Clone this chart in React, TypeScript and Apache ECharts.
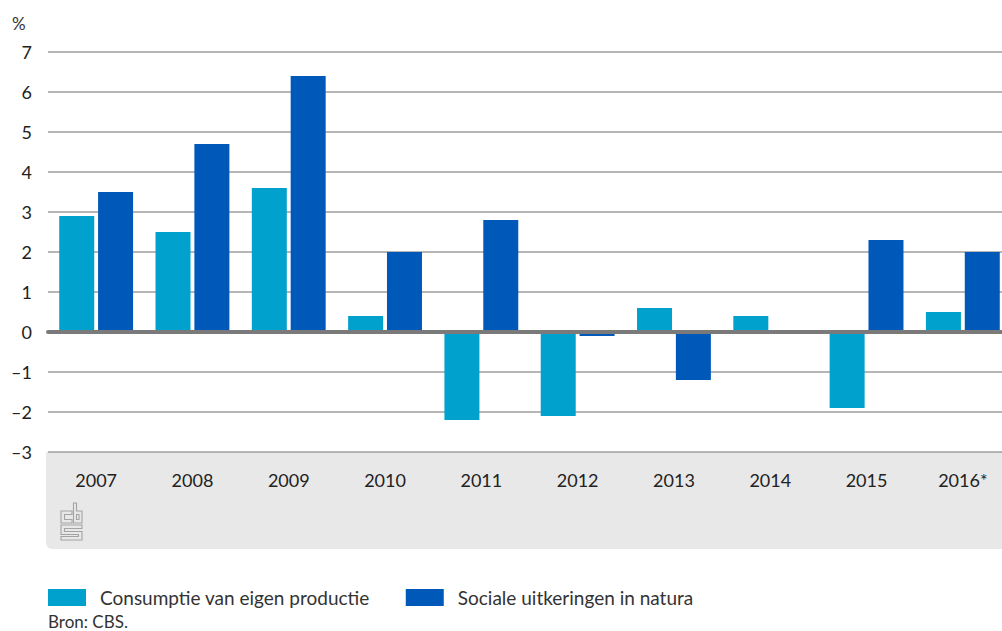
import React, { useEffect, useRef } from "react";
import * as echarts from "echarts";

const categories = ["2007", "2008", "2009", "2010", "2011", "2012", "2013", "2014", "2015", "2016*"];
const consumptieEigenProductie = [2.9, 2.5, 3.6, 0.4, -2.2, -2.1, 0.6, 0.4, -1.9, 0.5];
const socialeUitkeringenNatura = [3.5, 4.7, 6.4, 2.0, 2.8, -0.1, -1.2, 0, 2.3, 2.0];
const seriesNames = ["Consumptie van eigen productie", "Sociale uitkeringen in natura"];

const LOGO_D =
  "M11,8 L0,8 L0,20 L11,20 L11,16.5 L3.5,16.5 L3.5,11.5 L11,11.5 Z " +
  "M12.5,0 L15.5,0 L15.5,8 L21,8 L21,20 L12.5,20 Z M15.5,11.5 L18,11.5 L18,16.5 L15.5,16.5 Z " +
  "M0,22 L21,22 L21,25.5 L3.5,25.5 L3.5,28.5 L21,28.5 L21,37 L0,37 L0,33.5 L17.5,33.5 L17.5,31.5 L0,31.5 Z";

let registered = false;

export default function App() {
  const ref = useRef<HTMLDivElement>(null);
  useEffect(() => {
    if (!ref.current) return;
    if (!registered) {
      echarts.graphic.registerShape("logo", echarts.graphic.extendPath(LOGO_D, {}));
      registered = true;
    }
    const chart = echarts.init(ref.current, null, { renderer: "svg" });
    const font = "Lato, 'Open Sans', sans-serif";
    chart.setOption({
      animation: false,
      textStyle: { fontFamily: font },
      grid: { left: 48, top: 52, width: 963, height: 400, containLabel: false },
      legend: {
        left: 48,
        top: 588,
        padding: 0,
        itemWidth: 38,
        itemHeight: 17,
        itemGap: 36,
        icon: "rect",
        data: seriesNames,
        textStyle: { fontFamily: font, fontSize: 19, color: "#333", padding: [0, 0, 0, 9] },
      },
      xAxis: [
        {
          type: "category",
          data: categories,
          position: "bottom",
          axisLine: { show: false, onZero: false },
          axisTick: { show: false },
          splitLine: { show: false },
          axisLabel: { margin: 19, fontSize: 18, color: "#222", fontFamily: font },
        },
        {
          type: "category",
          data: categories,
          position: "top",
          z: 10,
          axisLine: { show: true, onZero: true, lineStyle: { color: "#7a7a7a", width: 4 } },
          axisTick: { show: false },
          axisLabel: { show: false },
          splitLine: { show: false },
        },
      ],
      yAxis: {
        type: "value",
        min: -3,
        max: 7,
        interval: 1,
        axisLine: { show: false },
        axisTick: { show: false },
        axisLabel: {
          margin: 16,
          fontSize: 18,
          color: "#222",
          fontFamily: font,
          formatter: (v: number) => (v < 0 ? "\u2013" + Math.abs(v) : String(v)),
        },
        splitLine: { lineStyle: { color: "#9e9e9e", width: 1.5 } },
      },
      series: [
        {
          name: seriesNames[0],
          type: "bar",
          data: consumptieEigenProductie,
          itemStyle: { color: "#00a1cd" },
          barWidth: 35,
          barGap: "11%",
        },
        {
          name: seriesNames[1],
          type: "bar",
          data: socialeUitkeringenNatura,
          itemStyle: { color: "#0058b8" },
          barWidth: 35,
          barGap: "11%",
        },
      ],
      graphic: [
        {
          type: "rect",
          z: -10,
          shape: { x: 46, y: 452, width: 1000, height: 97, r: [0, 0, 0, 6] },
          style: { fill: "#e8e8e8" },
        },
        {
          type: "logo",
          x: 61,
          y: 503,
          scaleX: 1,
          scaleY: 1,
          style: { fill: "none", stroke: "#a3a3a3", lineWidth: 1.1 },
        },
        {
          type: "text",
          x: 12,
          y: 23,
          style: { text: "%", fontSize: 17, fontFamily: font, fill: "#333", verticalAlign: "middle" },
        },
        {
          type: "text",
          x: 48,
          y: 621,
          style: { text: "Bron: CBS.", fontSize: 17, fontFamily: font, fill: "#333", verticalAlign: "middle" },
        },
      ],
    });
    return () => chart.dispose();
  }, []);
  return (
    <div style={{ position: "fixed", left: 0, top: 0, width: 1002, height: 631, overflow: "hidden", background: "#fff" }}>
      <div ref={ref} style={{ width: 1015, height: 631 }} />
    </div>
  );
}
